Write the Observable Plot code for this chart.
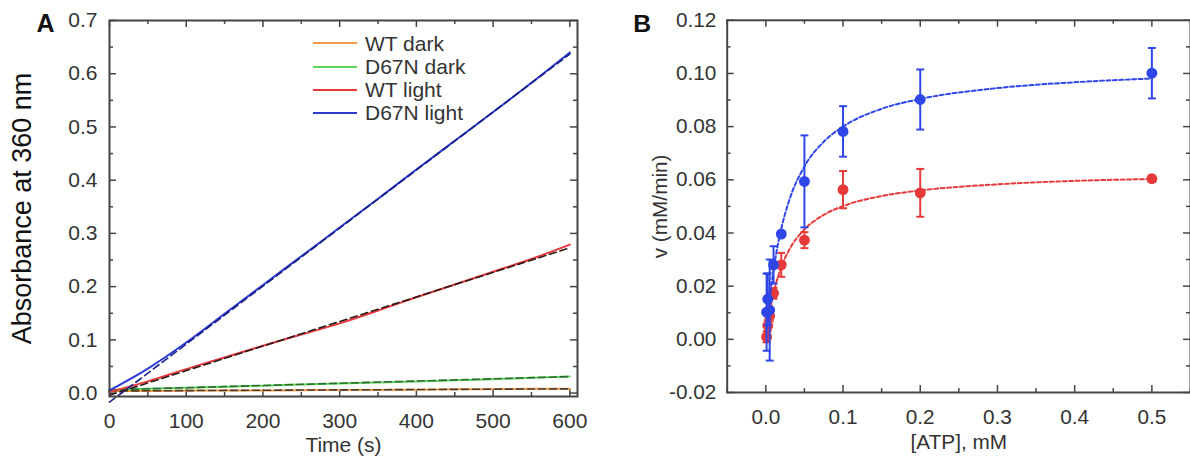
<!DOCTYPE html>
<html><head><meta charset="utf-8">
<script src="https://cdn.jsdelivr.net/npm/d3@7"></script>
<script src="https://cdn.jsdelivr.net/npm/@observablehq/plot@0.6"></script>
<style>
html,body{margin:0;padding:0;background:#fff;overflow:hidden;}
#wrap{position:relative;width:1190px;height:461px;overflow:hidden;font-family:"Liberation Sans",Arial,sans-serif;}
#a{position:absolute;left:0;top:0;}
#b{position:absolute;left:600px;top:0;}
#legend{position:absolute;left:313px;top:31.6px;font-size:21px;color:#333;line-height:23.3px;}
#legend .row{display:flex;align-items:center;height:23.3px;}
#legend .sw{width:44px;height:2px;margin-right:8px;}
</style></head><body>
<div id="wrap"><div id="a"></div><div id="b"></div><div id="legend"></div></div>
<script>
// ---------- Panel A data ----------
const seriesNamesA = ["WT dark", "D67N dark", "WT light", "D67N light"];
const seriesColorsA = ["#f39b4b", "#5cd65c", "#e8383d", "#2d3bd6"];
const fitColorsA = ["#4a3a28", "#2f6a2f", "#2a1a1a", "#1a1f80"];
const timeA = [0, 50, 100, 150, 200, 250, 300, 350, 400, 450, 500, 550, 600];
const wtDark = [0.004, 0.004, 0.0045, 0.005, 0.005, 0.0055, 0.006, 0.006, 0.0065, 0.007, 0.0075, 0.008, 0.008];
const d67nDark = [0.006, 0.008, 0.010, 0.012, 0.014, 0.016, 0.018, 0.020, 0.022, 0.024, 0.026, 0.029, 0.031];
const wtLight = [0.002, 0.022, 0.045, 0.067, 0.089, 0.110, 0.131, 0.155, 0.180, 0.204, 0.228, 0.252, 0.279];
const d67nLight = [0.005, 0.046, 0.095, 0.149, 0.203, 0.257, 0.311, 0.365, 0.420, 0.474, 0.528, 0.583, 0.640];
const fitTimeA = [0, 600];
const wtDarkFit = [0.004, 0.008];
const d67nDarkFit = [0.006, 0.031];
const wtLightFit = [-0.004, 0.273];
const d67nLightFit = [-0.017, 0.637];
const xTicksA = [0, 100, 200, 300, 400, 500, 600];
const yTicksA = [0, 0.1, 0.2, 0.3, 0.4, 0.5, 0.6, 0.7];

// ---------- Panel B data ----------
const atpB = [0.001, 0.0025, 0.005, 0.01, 0.02, 0.05, 0.1, 0.2, 0.5];
const blueV = [0.0102, 0.0151, 0.011, 0.028, 0.0396, 0.0594, 0.0782, 0.0902, 0.1001];
const blueErr = [0.0145, 0.0097, 0.019, 0.007, 0.001, 0.0173, 0.0095, 0.0113, 0.0095];
const redV = [0.0009, 0.0052, 0.0088, 0.0173, 0.028, 0.0373, 0.0563, 0.0551, 0.0604];
const redErr = [0.002, 0.002, 0.002, 0.002, 0.0045, 0.003, 0.007, 0.009, 0.0012];
const fitAtp = [0.001, 0.005, 0.01, 0.02, 0.03, 0.05, 0.075, 0.1, 0.15, 0.2, 0.3, 0.4, 0.5];
const blueFit = [0.0033, 0.0149, 0.026, 0.0416, 0.052, 0.065, 0.0743, 0.080, 0.0867, 0.0904, 0.0945, 0.0967, 0.0981];
const redFit = [0.0023, 0.0099, 0.0172, 0.0271, 0.0335, 0.0413, 0.0468, 0.0501, 0.0539, 0.056, 0.0583, 0.0596, 0.0603];
const xTicksB = [0, 0.1, 0.2, 0.3, 0.4, 0.5];
const yTicksB = [-0.02, 0, 0.02, 0.04, 0.06, 0.08, 0.10, 0.12];
const colorBlueB = "#2e46e8", colorRedB = "#e63a3a";

const FONT = "'Liberation Sans', Arial, sans-serif";
const INK = "#333";
const FRAME = "#444";

function frameTicks(xMaj, xMin, yMaj, yMin, pw, ph) {
  const L = 7, l = 4, s = {stroke: FRAME, strokeWidth: 1.5};
  return [
    Plot.ruleX(xMaj, {...s, insetTop: ph - L}),
    Plot.ruleX(xMaj, {...s, insetBottom: ph - L}),
    Plot.ruleX(xMin, {...s, insetTop: ph - l}),
    Plot.ruleX(xMin, {...s, insetBottom: ph - l}),
    Plot.ruleY(yMaj, {...s, insetRight: pw - L}),
    Plot.ruleY(yMaj, {...s, insetLeft: pw - L}),
    Plot.ruleY(yMin, {...s, insetRight: pw - l}),
    Plot.ruleY(yMin, {...s, insetLeft: pw - l})
  ];
}

// ---------- Panel A ----------
const valuesA = [wtDark, d67nDark, wtLight, d67nLight];
const fitsA = [wtDarkFit, d67nDarkFit, wtLightFit, d67nLightFit];
const mA = {left: 109, right: 23, top: 20, bottom: 65};
const pwA = 600 - mA.left - mA.right, phA = 461 - mA.top - mA.bottom;
const marksA = [...frameTicks(xTicksA, d3.range(50, 600, 100), yTicksA, d3.range(0.05, 0.7, 0.1), pwA, phA)];
valuesA.forEach((vals, k) => {
  marksA.push(Plot.line(timeA.map((t, i) => ({t, v: vals[i]})), {x: "t", y: "v", stroke: seriesColorsA[k], strokeWidth: 2, curve: "monotone-x"}));
  marksA.push(Plot.line(fitTimeA.map((t, i) => ({t, v: fitsA[k][i]})), {x: "t", y: "v", stroke: fitColorsA[k], strokeWidth: 1.6, strokeDasharray: "7,4"}));
});
marksA.push(
  Plot.frame({stroke: FRAME, strokeWidth: 2}),
  Plot.axisX({ticks: xTicksA, tickSize: 0, tickPadding: 17, tickFormat: d => String(d), fontSize: 21, label: null}),
  Plot.axisY({ticks: yTicksA, tickSize: 0, tickPadding: 12, tickFormat: d => d.toFixed(1), fontSize: 21, label: null}),
  Plot.text(["Time (s)"], {frameAnchor: "bottom", textAnchor: "middle", lineAnchor: "middle", dy: 49, fontSize: 21, fill: INK}),
  Plot.text(["Absorbance at 360 nm"], {frameAnchor: "left", textAnchor: "middle", lineAnchor: "middle", dx: -87, rotate: -90, fontSize: 27, fill: "#111"}),
  Plot.text(["A"], {frameAnchor: "top-left", textAnchor: "middle", lineAnchor: "middle", dx: -64, dy: 3, fontSize: 25, fontWeight: "bold", fill: "#111"})
);
const plotA = Plot.plot({
  width: 600, height: 461,
  marginLeft: mA.left, marginRight: mA.right, marginTop: mA.top, marginBottom: mA.bottom,
  style: {fontFamily: FONT, fontSize: "21px", color: INK, background: "white", overflow: "visible"},
  x: {domain: [0, 610]},
  y: {domain: [-0.0064, 0.7]},
  marks: marksA
});
document.getElementById("a").appendChild(plotA);

// legend
const legend = document.getElementById("legend");
seriesNamesA.forEach((n, k) => {
  const row = document.createElement("div");
  row.className = "row";
  row.innerHTML = `<span class="sw" style="background:${seriesColorsA[k]}"></span><span>${n}</span>`;
  legend.appendChild(row);
});

// ---------- Panel B ----------
const capSymbol = {draw(ctx, size) { const w = Math.sqrt(size / Math.PI); ctx.moveTo(-w, 0); ctx.lineTo(w, 0); }};
const mB = {left: 128, right: 0, top: 20, bottom: 65};
const pwB = 596 - mB.left - mB.right, phB = 461 - mB.top - mB.bottom;
const rowsBlue = atpB.map((x, i) => ({x, v: blueV[i], lo: blueV[i] - blueErr[i], hi: blueV[i] + blueErr[i]}));
const rowsRed = atpB.map((x, i) => ({x, v: redV[i], lo: redV[i] - redErr[i], hi: redV[i] + redErr[i]}));
const marksB = [...frameTicks(xTicksB, d3.range(-0.05, 0.56, 0.1), yTicksB, d3.range(-0.01, 0.12, 0.02), pwB, phB)];
[[rowsRed, redFit, colorRedB], [rowsBlue, blueFit, colorBlueB]].forEach(([rows, fit, c]) => {
  marksB.push(
    Plot.line(fitAtp.map((x, i) => ({x, v: fit[i]})), {x: "x", y: "v", stroke: c, strokeWidth: 2, strokeDasharray: "4,2.5", curve: "monotone-x"}),
    Plot.ruleX(rows, {x: "x", y1: "lo", y2: "hi", stroke: c, strokeWidth: 2}),
    Plot.dot(rows, {x: "x", y: "hi", symbol: capSymbol, r: 4, stroke: c, strokeWidth: 2, fill: "none"}),
    Plot.dot(rows, {x: "x", y: "lo", symbol: capSymbol, r: 4, stroke: c, strokeWidth: 2, fill: "none"}),
    Plot.dot(rows, {x: "x", y: "v", r: 5.5, fill: c, stroke: "none"})
  );
});
marksB.push(
  Plot.frame({stroke: FRAME, strokeWidth: 2}),
  Plot.axisX({ticks: xTicksB, tickSize: 0, tickPadding: 17, tickFormat: d => d.toFixed(1), fontSize: 21, label: null}),
  Plot.axisY({ticks: yTicksB, tickSize: 0, tickPadding: 11, tickFormat: d => d.toFixed(2), fontSize: 21, label: null}),
  Plot.text(["[ATP], mM"], {frameAnchor: "bottom", textAnchor: "middle", lineAnchor: "middle", dy: 50, fontSize: 21, fill: INK}),
  Plot.text(["v (mM/min)"], {frameAnchor: "left", textAnchor: "middle", lineAnchor: "middle", dx: -68, rotate: -90, fontSize: 21, fill: INK}),
  Plot.text(["B"], {frameAnchor: "top-left", textAnchor: "middle", lineAnchor: "middle", dx: -86, dy: 4, fontSize: 25, fontWeight: "bold", fill: "#111"})
);
const plotB = Plot.plot({
  width: 596, height: 461,
  marginLeft: mB.left, marginRight: mB.right, marginTop: mB.top, marginBottom: mB.bottom,
  style: {fontFamily: FONT, fontSize: "21px", color: INK, background: "white", overflow: "visible"},
  x: {domain: [-0.05, 0.55]},
  y: {domain: [-0.02, 0.12]},
  marks: marksB
});
document.getElementById("b").appendChild(plotB);
</script>
</body></html>
